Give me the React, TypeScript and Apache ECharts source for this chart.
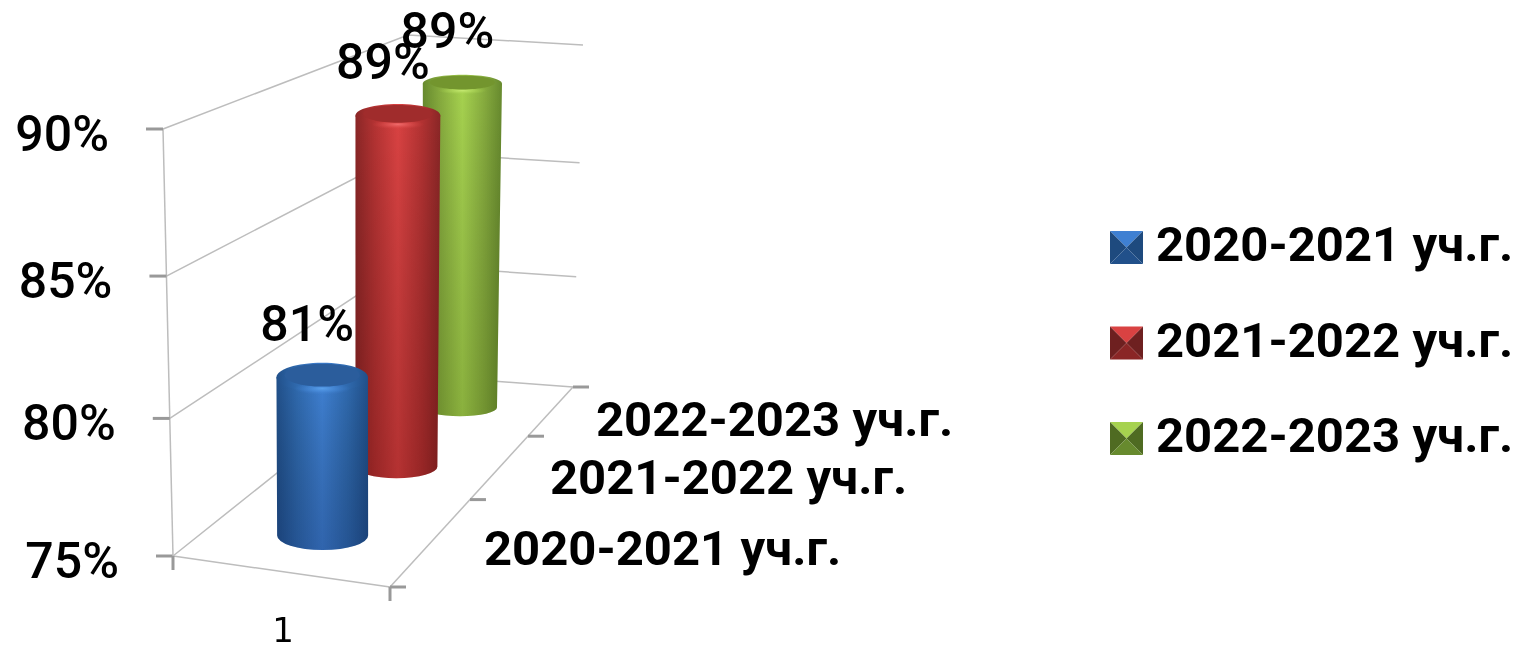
import React, { useEffect, useRef } from "react";
import * as echarts from "echarts";

const categories = ["1"];
const seriesNames = ["2020-2021 уч.г.", "2021-2022 уч.г.", "2022-2023 уч.г."];
const seriesValues = [81, 89, 89];
const yTicks = [75, 80, 85, 90];

const FONT = "Roboto, 'Open Sans', sans-serif";
const depthPos = [0.19, 0.55, 0.86];
const headShift = [0, -1.5, -4];
const depthTickPos = [0, 0.437, 0.754, 1];
const depthLabelAt = [[484, 548], [550, 477], [596, 419]];

const floorC = { fl: [173, 556], fr: [390, 587], bl: [401, 374], br: [573, 387] };
const ceilC = { fl: [163, 129], fr: [393, 150], bl: [408, 35], br: [583, 45] };

const palettes = [
  { edge: "#21508a", mid: "#2f69ad", center: "#3f80d2", top: "#2b5d9c", glow: "#5aa0ea", shade: "rgba(10,30,80,0.28)", dark: "#1e4a7e" },
  { edge: "#8a2626", mid: "#b23232", center: "#d94242", top: "#a02c2c", glow: "#ee6a6a", shade: "rgba(70,0,0,0.25)", dark: "#6e2020" },
  { edge: "#678a2e", mid: "#86ab3e", center: "#a6d24f", top: "#73952e", glow: "#c4e870", shade: "rgba(40,60,0,0.22)", dark: "#4f6b22" },
];

const mix = (a: number[], b: number[], k: number) => [a[0] + (b[0] - a[0]) * k, a[1] + (b[1] - a[1]) * k];
const cornerAt = (c: typeof floorC, u: number, w: number) => mix(mix(c.fl, c.fr, u), mix(c.bl, c.br, u), w);
const warp = (t: number) => t - 0.05 * t * (1 - t);
const project = (u: number, w: number, t: number) => mix(cornerAt(floorC, u, w), cornerAt(ceilC, u, w), warp(t));

const tOf = (api: any, v: number) => {
  const lo = api.coord([0, yTicks[0]])[1];
  const hi = api.coord([0, yTicks[yTicks.length - 1]])[1];
  return (lo - api.coord([0, v])[1]) / (lo - hi);
};

const hGrad = (p: any) => ({
  type: "linear", x: 0, y: 0, x2: 1, y2: 0,
  colorStops: [
    { offset: 0, color: p.edge }, { offset: 0.22, color: p.mid }, { offset: 0.5, color: p.center },
    { offset: 0.78, color: p.mid }, { offset: 1, color: p.edge },
  ],
});

const renderCylinder = (params: any, api: any) => {
  const i = params.seriesIndex;
  const w = depthPos[i];
  const p = palettes[i];
  const t = tOf(api, api.value(1));
  const base = project(0.51, w, 0);
  const head = project(0.51, w, t);
  head[0] += headShift[i];
  head[1] += 2 + 3.5 * w;
  const rxT = 47.5 - 9.2 * w;
  const rxB = 47.9 - 12.7 * w;
  const ry = 16.2 - 8.5 * w;
  const body = `M ${head[0] - rxT} ${head[1]} L ${base[0] - rxB} ${base[1]} A ${rxB} ${ry} 0 0 0 ${base[0] + rxB} ${base[1]} L ${head[0] + rxT} ${head[1]} Z`;
  return {
    type: "group",
    children: [
      { type: "path", shape: { pathData: body }, style: { fill: hGrad(p) } },
      {
        type: "path", shape: { pathData: body },
        style: { fill: { type: "linear", x: 0, y: 0, x2: 0, y2: 1, colorStops: [{ offset: 0, color: "rgba(0,0,0,0)" }, { offset: 1, color: p.shade }] } },
      },
      { type: "ellipse", shape: { cx: head[0], cy: head[1], rx: rxT, ry }, style: { fill: hGrad(p) } },
      {
        type: "ellipse", shape: { cx: head[0], cy: head[1] + ry * 0.78, rx: rxT * 0.62, ry: ry * 0.42 },
        style: { fill: { type: "radial", x: 0.5, y: 0.5, r: 0.5, colorStops: [{ offset: 0, color: p.glow }, { offset: 1, color: p.center + "00" }] } },
      },
      { type: "ellipse", shape: { cx: head[0], cy: head[1] - ry * 0.14, rx: rxT * 0.82, ry: ry * 0.78 }, style: { fill: p.top } },
      {
        type: "text", z2: 20,
        style: { x: head[0] - 15, y: head[1] - 53, text: `${Math.round(api.value(1))}%`, fill: "#000", font: `500 50px ${FONT}`, align: "center", verticalAlign: "middle" },
      },
    ],
  };
};

const GRID_LINE = "#bdbdbd";
const TICK = "#999999";

const renderFrame = (params: any, api: any) => {
  const v = api.value(0);
  const t = tOf(api, v);
  const a = project(0, 0, t);
  const b = project(0, 1, t);
  const c = project(1, 1, t);
  const line = (x1: number, y1: number, x2: number, y2: number, stroke = GRID_LINE, lineWidth = 1.5) => ({
    type: "line", shape: { x1, y1, x2, y2 }, style: { stroke, lineWidth },
  });
  const children: any[] = [
    { type: "polyline", shape: { points: [a, b, c] }, style: { stroke: GRID_LINE, lineWidth: 1.5, fill: "none" } },
    line(a[0] - 17, a[1], a[0], a[1], TICK, 3),
    {
      type: "text",
      style: { x: a[0] - 54, y: a[1] + 5, text: `${v}%`, fill: "#000", font: `500 50px ${FONT}`, align: "right", verticalAlign: "middle" },
    },
  ];
  if (params.dataIndex === 0) {
    const { fl, fr, br } = floorC;
    const top = ceilC.fl;
    children.push(line(fl[0], fl[1], fr[0], fr[1]));
    children.push(line(fr[0], fr[1], br[0], br[1]));
    children.push(line(fl[0], fl[1], top[0], top[1]));
    children.push(line(fl[0], fl[1], fl[0], fl[1] + 14, TICK, 3));
    children.push(line(fr[0], fr[1], fr[0], fr[1] + 14, TICK, 3));
    depthTickPos.forEach((d) => {
      const q = mix(fr, br, d);
      children.push(line(q[0], q[1], q[0] + 16, q[1], TICK, 3));
    });
    seriesNames.forEach((name, i) => {
      children.push({
        type: "text",
        style: { x: depthLabelAt[i][0], y: depthLabelAt[i][1], text: name, fill: "#000", font: `700 49px ${FONT}`, align: "left", verticalAlign: "middle" },
      });
    });
    children.push({
      type: "text",
      style: { x: 283, y: 629.5, text: categories[0], fill: "#000", font: `400 34px 'DejaVu Sans', sans-serif`, align: "center", verticalAlign: "middle" },
    });
  }
  return { type: "group", children };
};

const bevel = (x: number, y: number, s: number, p: any) => {
  const c = [x + s / 2, y + s / 2];
  const nw = [x, y], ne = [x + s, y], se = [x + s, y + s], sw = [x, y + s];
  const tri = (pts: number[][], fill: string) => ({ type: "polygon", z: 30, shape: { points: pts }, style: { fill } });
  return [tri([nw, ne, c], p.center), tri([ne, se, c], p.dark), tri([nw, sw, c], p.dark), tri([sw, se, c], p.edge)];
};

export default function App() {
  const ref = useRef<HTMLDivElement>(null);
  useEffect(() => {
    const chart = echarts.init(ref.current!, undefined, { renderer: "svg" });
    const legendY = [231, 326.5, 422];
    chart.setOption({
      animation: false,
      backgroundColor: "#fff",
      grid: { left: 173, top: 129, width: 217, height: 427 },
      xAxis: { type: "category", data: categories, show: false },
      yAxis: { type: "value", min: yTicks[0], max: yTicks[yTicks.length - 1], interval: 5, show: false },
      legend: {
        orient: "vertical", left: 1110, top: 220, itemWidth: 33, itemHeight: 33, itemGap: 46.5,
        padding: 0, selectedMode: false,
        data: seriesNames.map((name) => ({ name, icon: "rect", itemStyle: { color: "transparent" } })),
        textStyle: { fontFamily: FONT, fontWeight: 700, fontSize: 49, color: "#000", padding: [0, 0, 0, 8] },
      },
      graphic: legendY.flatMap((y, i) => bevel(1110, y, 33, palettes[i])),
      series: [
        ...seriesNames.map((name, i) => ({
          type: "custom", name, z: 5 - i, renderItem: renderCylinder,
          encode: { x: 0, y: 1 }, data: [[0, seriesValues[i]]], itemStyle: { color: palettes[i].mid },
        })),
        { type: "custom", name: "frame", z: 1, silent: true, renderItem: renderFrame, encode: { y: 0 }, data: yTicks.map((v) => [v]) },
      ],
    });
    return () => chart.dispose();
  }, []);
  return <div ref={ref} style={{ position: "absolute", left: 0, top: 0, width: 1529, height: 649, filter: "blur(0.6px)" }} />;
}
